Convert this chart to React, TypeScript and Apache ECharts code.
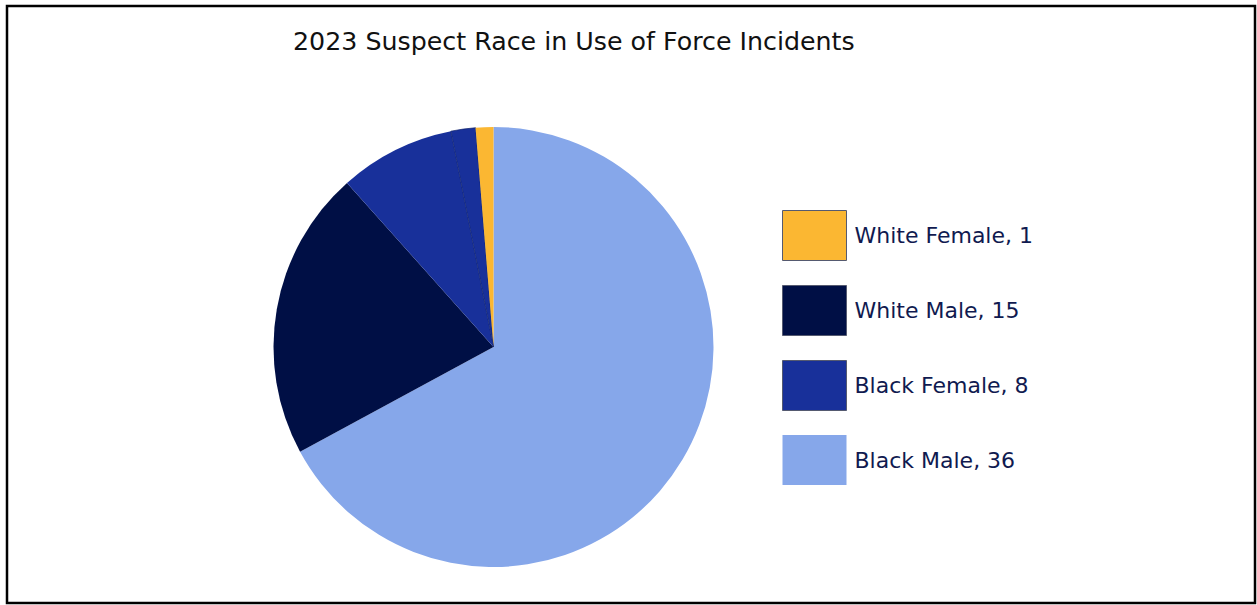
import React, { useEffect, useRef } from "react";
import * as echarts from "echarts";

const titleText = "2023 Suspect Race in Use of Force Incidents";

// Legend categories and their reported counts (as printed in the legend)
const legendNames = ["White Female", "White Male", "Black Female", "Black Male"];
const legendCounts = [1, 15, 8, 36];

// Slices as drawn, in drawing order (clockwise from 12 o'clock), share of the pie (%)
const sliceNames = ["Black Male", "White Male", "Black Female", "Black Female (b)", "White Female"];
const sliceShares = [67.1, 21.3, 8.5, 1.8, 1.3];
const sliceColors = ["#86A7EA", "#000F45", "#18309A", "#18309A", "#FBB732"];

export default function App() {
  const ref = useRef<HTMLDivElement>(null);
  useEffect(() => {
    if (!ref.current) return;
    const chart = echarts.init(ref.current, undefined, { renderer: "svg" });
    const countMap: Record<string, number> = {};
    legendNames.forEach((n, i) => (countMap[n] = legendCounts[i]));
    const font = "'DejaVu Sans', 'Noto Sans', sans-serif";
    chart.setOption({
      animation: false,
      backgroundColor: "#ffffff",
      graphic: [
        {
          type: "rect",
          shape: { x: 7, y: 6, width: 1248, height: 597 },
          style: { fill: "none", stroke: "#000", lineWidth: 2.5 },
          silent: true,
        },
        {
          type: "text",
          left: 293,
          top: 29,
          style: { text: titleText, fill: "#111", font: `25.3px ${font}` },
        },
      ],
      legend: {
        orient: "vertical",
        left: 777,
        top: 205,
        itemWidth: 64,
        itemHeight: 50,
        itemGap: 24,
        icon: "rect",
        data: legendNames.map((n, i) => ({
          name: n,
          itemStyle: i < 3 ? { borderColor: "#555a70", borderWidth: 1 } : { borderWidth: 0 },
        })),
        formatter: (name: string) => `${name}, ${countMap[name]}`,
        textStyle: { color: "#101a50", fontSize: 22, fontFamily: font, padding: [0, 0, 0, 3] },
        selectedMode: false,
      },
      series: [
        {
          type: "pie",
          center: [493.5, 347],
          radius: 220,
          startAngle: 90,
          clockwise: true,
          label: { show: false },
          labelLine: { show: false },
          emphasis: { disabled: true },
          data: sliceNames.map((n, i) => ({
            name: n,
            value: sliceShares[i],
            itemStyle: {
              color: sliceColors[i],
              borderColor: i === 3 ? "#0d1f6a" : sliceColors[i],
              borderWidth: i === 3 ? 0.7 : 0,
            },
          })),
        },
      ],
    });
    return () => chart.dispose();
  }, []);
  return (
    <div
      ref={ref}
      style={{ position: "absolute", left: 0, top: 0, width: 1257, height: 605 }}
    />
  );
}
